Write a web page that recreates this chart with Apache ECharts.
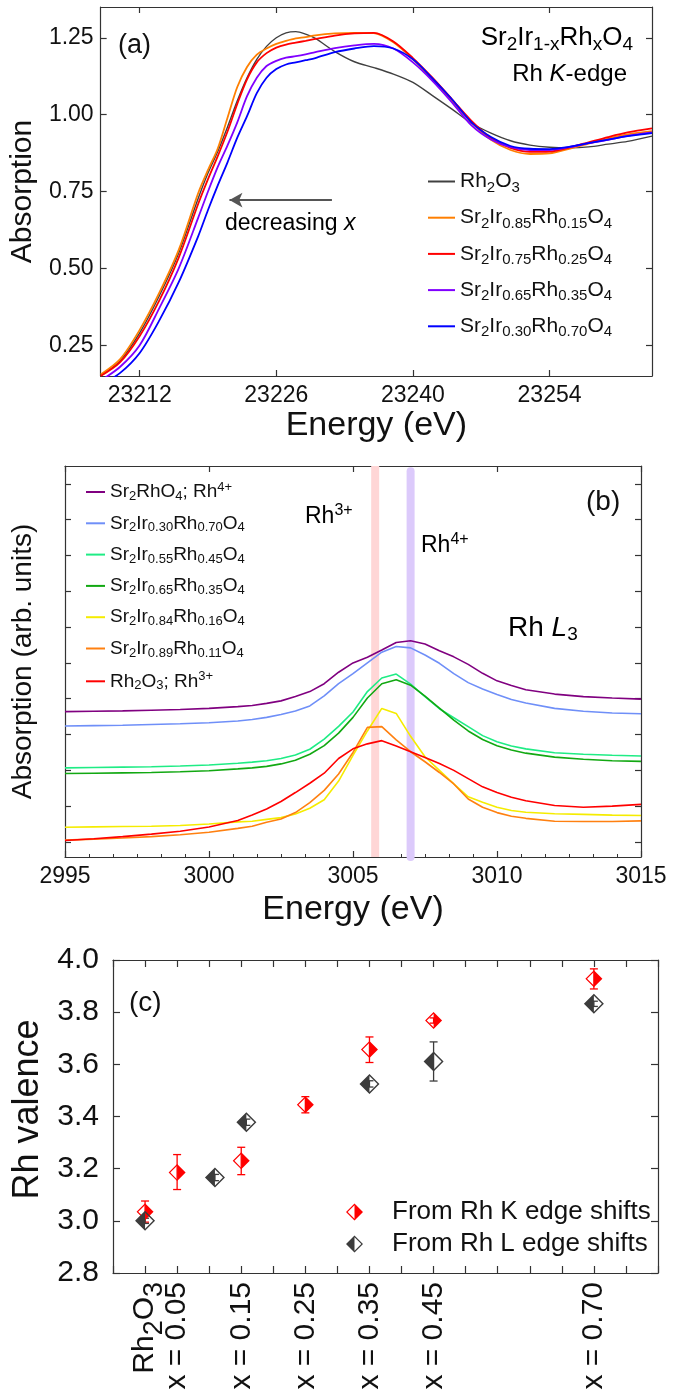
<!DOCTYPE html>
<html>
<head>
<meta charset="utf-8">
<script src="https://cdn.jsdelivr.net/npm/echarts@6/dist/echarts.min.js"></script>
<style>
  html, body { margin: 0; padding: 0; background: #fff; }
  #chart { width: 681px; height: 1393px; }
</style>
</head>
<body>
<div id="chart"></div>
<script>
const FONT = '"Liberation Sans", Arial, Helvetica, sans-serif';
const INK = '#111';
const FRAME = '#333';

// ---------- (a) Rh K-edge XANES ----------
const kEnergy = [23208, 23210, 23212, 23214, 23216, 23218, 23219, 23220, 23221, 23222, 23223, 23224, 23225, 23226, 23227, 23228, 23229, 23230,
  23232, 23234, 23236, 23238, 23240, 23242, 23244, 23246, 23248, 23250, 23252, 23254, 23256, 23258, 23260, 23262, 23264.5];
const kRh2O3 = [0.15, 0.2, 0.29, 0.41, 0.55, 0.728, 0.81, 0.88, 0.96, 1.045, 1.12, 1.18, 1.222, 1.25, 1.266, 1.27, 1.262, 1.248,
  1.205, 1.172, 1.153, 1.132, 1.105, 1.062, 1.018, 0.972, 0.94, 0.915, 0.901, 0.894, 0.892, 0.895, 0.904, 0.913, 0.93];
const kX015 = [0.155, 0.205, 0.3, 0.42, 0.56, 0.745, 0.82, 0.89, 0.99, 1.09, 1.155, 1.195, 1.215, 1.23, 1.24, 1.248, 1.252, 1.258,
  1.264, 1.266, 1.265, 1.235, 1.18, 1.115, 1.045, 0.975, 0.918, 0.885, 0.872, 0.874, 0.889, 0.906, 0.922, 0.936, 0.946];
const kX025 = [0.15, 0.195, 0.28, 0.395, 0.535, 0.71, 0.79, 0.865, 0.945, 1.035, 1.115, 1.17, 1.2, 1.218, 1.228, 1.234, 1.24, 1.246,
  1.257, 1.264, 1.266, 1.238, 1.184, 1.12, 1.05, 0.98, 0.924, 0.892, 0.879, 0.88, 0.893, 0.91, 0.927, 0.942, 0.955];
const kX035 = [0.135, 0.18, 0.25, 0.37, 0.5, 0.665, 0.75, 0.83, 0.9, 0.975, 1.06, 1.12, 1.158, 1.175, 1.185, 1.19, 1.196, 1.203,
  1.216, 1.225, 1.23, 1.215, 1.17, 1.11, 1.04, 0.965, 0.919, 0.894, 0.885, 0.885, 0.894, 0.907, 0.918, 0.931, 0.942];
const kX070 = [0.12, 0.16, 0.225, 0.33, 0.455, 0.605, 0.69, 0.77, 0.845, 0.925, 0.995, 1.07, 1.12, 1.148, 1.163, 1.17, 1.177, 1.184,
  1.203, 1.215, 1.223, 1.215, 1.18, 1.118, 1.05, 0.975, 0.927, 0.898, 0.889, 0.888, 0.895, 0.907, 0.919, 0.93, 0.94];
const kTicks = [23212, 23226, 23240, 23254];
const kAbsTicks = [0.25, 0.5, 0.75, 1.0, 1.25];
const arrowFrom = [23231.7, 0.722];
const arrowTo = [23221.2, 0.722];

// ---------- (b) Rh L3-edge ----------
const lEnergy = [2995, 2996, 2997, 2998, 2999, 3000, 3001, 3001.5, 3002, 3002.5, 3003, 3003.5, 3004, 3004.5, 3005, 3005.5,
  3006, 3006.5, 3007, 3007.5, 3008, 3008.5, 3009, 3009.5, 3010, 3010.5, 3011, 3012, 3013, 3014, 3015];
const lSr2RhO4 = [3.64, 3.65, 3.66, 3.68, 3.7, 3.73, 3.78, 3.81, 3.87, 3.94, 4.06, 4.2, 4.42, 4.74, 5.0, 5.16,
  5.36, 5.57, 5.62, 5.53, 5.34, 5.17, 4.96, 4.71, 4.5, 4.37, 4.25, 4.13, 4.06, 4.02, 3.99];
const lX070 = [3.24, 3.25, 3.26, 3.28, 3.3, 3.33, 3.38, 3.42, 3.48, 3.56, 3.66, 3.8, 4.08, 4.42, 4.7, 5.0,
  5.3, 5.46, 5.42, 5.22, 4.99, 4.7, 4.45, 4.27, 4.12, 3.98, 3.88, 3.73, 3.65, 3.6, 3.58];
const lX045 = [2.07, 2.08, 2.09, 2.1, 2.12, 2.15, 2.2, 2.23, 2.27, 2.33, 2.43, 2.59, 2.87, 3.23, 3.63, 4.2,
  4.58, 4.69, 4.41, 4.06, 3.72, 3.47, 3.22, 2.97, 2.8, 2.68, 2.6, 2.49, 2.45, 2.42, 2.4];
const lX035 = [1.91, 1.92, 1.93, 1.94, 1.96, 1.99, 2.04, 2.07, 2.11, 2.18, 2.28, 2.45, 2.69, 3.04, 3.48, 4.02,
  4.42, 4.53, 4.38, 4.07, 3.74, 3.4, 3.1, 2.86, 2.69, 2.57, 2.48, 2.37, 2.31, 2.27, 2.25];
const lX016 = [0.41, 0.42, 0.43, 0.44, 0.46, 0.5, 0.56, 0.58, 0.63, 0.68, 0.78, 0.94, 1.18, 1.7, 2.42, 3.1,
  3.73, 3.59, 2.95, 2.38, 2.0, 1.62, 1.26, 1.11, 0.97, 0.88, 0.83, 0.79, 0.77, 0.75, 0.74];
const lX011 = [0.05, 0.08, 0.11, 0.15, 0.2, 0.27, 0.38, 0.44, 0.55, 0.64, 0.82, 1.1, 1.44, 1.9, 2.5, 3.2,
  3.22, 2.85, 2.52, 2.24, 1.94, 1.62, 1.2, 0.97, 0.82, 0.72, 0.66, 0.58, 0.57, 0.57, 0.59];
const lRh2O3 = [0.04, 0.09, 0.15, 0.22, 0.3, 0.42, 0.6, 0.75, 0.92, 1.13, 1.38, 1.64, 1.92, 2.33, 2.6, 2.74,
  2.83, 2.68, 2.52, 2.36, 2.19, 2.0, 1.77, 1.54, 1.38, 1.25, 1.15, 1.02, 0.97, 1.0, 1.05];
const lYTicks = [0, 1, 2, 3, 4, 5, 6, 7, 8, 9, 10];
const bandRh3 = 3005.77;   // Rh3+ reference position
const bandRh4 = 3007.0;    // Rh4+ reference position

// ---------- (c) Rh valence ----------
const kDopingX = [0, 0.05, 0.15, 0.25, 0.35, 0.45, 0.70];
const kValence = [3.035, 3.185, 3.23, 3.445, 3.657, 3.768, 3.928];
const kValLow = [2.995, 3.12, 3.177, 3.414, 3.607, 3.758, 3.889];
const kValHigh = [3.076, 3.254, 3.282, 3.476, 3.705, 3.778, 3.966];
const lDopingX = [0, 0.109, 0.158, 0.35, 0.45, 0.70];
const lValence = [3.0, 3.166, 3.378, 3.525, 3.611, 3.832];
const lValLow = [2.99, 3.154, 3.366, 3.513, 3.536, 3.822];
const lValHigh = [3.01, 3.178, 3.39, 3.537, 3.686, 3.842];
const valenceLabelX = [0, 0.05, 0.15, 0.25, 0.35, 0.45, 0.70];

// chemistry-style markup: _{sub} ^{sup} ~{italic}
function rt(str) {
  return str.replace(/([_^~])\{([^}]*)\}|([^_^~]+)/g, (m, k, inner, plain) => {
    if (plain) return '{n|' + plain + '}';
    return '{' + (k === '_' ? 's' : k === '^' ? 'u' : 'i') + '|' + inner + '}';
  });
}
function richSet(size, sub, shift, color) {
  const c = color || INK;
  return {
    n: { fontSize: size, fontFamily: FONT, color: c },
    i: { fontSize: size, fontFamily: FONT, fontStyle: 'italic', color: c },
    s: { fontSize: sub, fontFamily: FONT, color: c, padding: [shift, 0, 0, 0] },
    u: { fontSize: sub, fontFamily: FONT, color: c, padding: [0, 0, shift, 0] }
  };
}

const pairs = (xs, ys) => xs.map((x, i) => [x, ys[i]]);

const seriesA = [
  { name: 'a_Rh2O3', label: 'Rh_{2}O_{3}', color: '#404040', data: kRh2O3, width: 1.4 },
  { name: 'a_015', label: 'Sr_{2}Ir_{0.85}Rh_{0.15}O_{4}', color: '#ff7f00', data: kX015, width: 1.8 },
  { name: 'a_025', label: 'Sr_{2}Ir_{0.75}Rh_{0.25}O_{4}', color: '#ff0000', data: kX025, width: 1.8 },
  { name: 'a_035', label: 'Sr_{2}Ir_{0.65}Rh_{0.35}O_{4}', color: '#8000ff', data: kX035, width: 1.8 },
  { name: 'a_070', label: 'Sr_{2}Ir_{0.30}Rh_{0.70}O_{4}', color: '#0000ff', data: kX070, width: 1.8 }
];
const seriesB = [
  { name: 'b_Sr2RhO4', label: 'Sr_{2}RhO_{4}; Rh^{4+}', color: '#800080', data: lSr2RhO4 },
  { name: 'b_070', label: 'Sr_{2}Ir_{0.30}Rh_{0.70}O_{4}', color: '#6f8ff8', data: lX070 },
  { name: 'b_045', label: 'Sr_{2}Ir_{0.55}Rh_{0.45}O_{4}', color: '#1fec85', data: lX045 },
  { name: 'b_035', label: 'Sr_{2}Ir_{0.65}Rh_{0.35}O_{4}', color: '#12a812', data: lX035 },
  { name: 'b_016', label: 'Sr_{2}Ir_{0.84}Rh_{0.16}O_{4}', color: '#f5ec00', data: lX016 },
  { name: 'b_011', label: 'Sr_{2}Ir_{0.89}Rh_{0.11}O_{4}', color: '#ff8010', data: lX011 },
  { name: 'b_Rh2O3', label: 'Rh_{2}O_{3}; Rh^{3+}', color: '#ff0000', data: lRh2O3 }
];
const LABELS = {};
seriesA.concat(seriesB).forEach(s => { LABELS[s.name] = s.label; });

// half-filled diamonds: ring + filled half in one path
const RED_DIAMOND = 'path://M10,0L20,10L10,20L0,10Z M10,2L2,10L10,18L18,10Z M10,2L18,10L10,18Z';
const GRAY_DIAMOND = 'path://M10,0L20,10L10,20L0,10Z M10,2L2,10L10,18L18,10Z M10,2L10,18L2,10Z';

function errorBar(color) {
  return function (params, api) {
    const x = api.value(0);
    const top = api.coord([x, api.value(2)]);
    const bot = api.coord([x, api.value(1)]);
    const style = { stroke: color, lineWidth: 1.3 };
    return {
      type: 'group',
      children: [
        { type: 'line', shape: { x1: top[0], y1: top[1], x2: bot[0], y2: bot[1] }, style },
        { type: 'line', shape: { x1: top[0] - 4, y1: top[1], x2: top[0] + 4, y2: top[1] }, style },
        { type: 'line', shape: { x1: bot[0] - 4, y1: bot[1], x2: bot[0] + 4, y2: bot[1] }, style }
      ]
    };
  };
}

function frame(extra) {
  const tick = Object.assign({ show: true, inside: true, length: 6, lineStyle: { color: FRAME, width: 1.2 } }, extra.axisTick || {});
  return Object.assign({
    type: 'value',
    axisLine: { show: true, onZero: false, lineStyle: { color: FRAME, width: 1.2 } },
    splitLine: { show: false },
    axisLabel: { show: false }
  }, extra, { axisTick: tick });
}

// label only the doping levels that were measured
function valenceLabel(v) {
  const k = Math.round(v * 100);
  if (!valenceLabelX.some(x => Math.round(x * 100) === k)) return '';
  return k === 0 ? rt('Rh_{2}O_{3}') : rt('x = ' + (k / 100).toFixed(2));
}

const chart = echarts.init(document.getElementById('chart'));

const option = {
  animation: false,
  backgroundColor: '#fff',
  textStyle: { fontFamily: FONT },
  grid: [
    { left: 97, right: 29, top: 7, height: 369 },
    { left: 65, right: 40, top: 466, height: 391 },
    { left: 113, right: 23, top: 960, height: 313 }
  ],
  xAxis: [
    frame({
      gridIndex: 0, min: 23208, max: 23264.5, position: 'bottom',
      axisTick: { customValues: kTicks },
      axisLabel: { show: true, customValues: kTicks, fontSize: 23, color: INK, margin: 8, fontFamily: FONT,
        formatter: v => String(v) },
      name: 'Energy (eV)', nameLocation: 'middle', nameGap: 33,
      nameTextStyle: { fontSize: 34, color: INK, fontFamily: FONT }
    }),
    frame({ gridIndex: 0, min: 23208, max: 23264.5, position: 'top', axisTick: { customValues: kTicks } }),
    frame({
      gridIndex: 1, min: 2995, max: 3015, interval: 5, position: 'bottom',
      minorTick: { show: true, splitNumber: 6, length: 3, lineStyle: { color: FRAME, width: 1 } },
      axisLabel: { show: true, fontSize: 23, color: INK, margin: 8, fontFamily: FONT, formatter: v => String(v) },
      name: 'Energy (eV)', nameLocation: 'middle', nameGap: 36,
      nameTextStyle: { fontSize: 34, color: INK, fontFamily: FONT }
    }),
    frame({ gridIndex: 1, min: 2995, max: 3015, interval: 5, position: 'top' }),
    frame({
      gridIndex: 2, min: -0.05, max: 0.8, interval: 0.05, position: 'bottom',
      axisTick: { length: 7 },
      axisLabel: {
        show: true, interval: 0, rotate: 90, margin: 9, formatter: valenceLabel,
        rich: richSet(30, 27, 18)
      }
    }),
    frame({ gridIndex: 2, min: -0.05, max: 0.8, interval: 0.05, position: 'top', axisTick: { length: 7 } })
  ],
  yAxis: [
    frame({
      gridIndex: 0, min: 0.15, max: 1.35, position: 'left',
      axisTick: { customValues: kAbsTicks },
      axisLabel: { show: true, customValues: kAbsTicks, fontSize: 23, color: INK, margin: 7, fontFamily: FONT,
        formatter: v => v.toFixed(2) },
      name: 'Absorption', nameLocation: 'middle', nameGap: 58,
      nameTextStyle: { fontSize: 30, color: INK, fontFamily: FONT }
    }),
    frame({ gridIndex: 0, min: 0.15, max: 1.35, position: 'right', axisTick: { customValues: kAbsTicks } }),
    frame({
      gridIndex: 1, min: -0.42, max: 10.5, position: 'left',
      axisTick: { customValues: lYTicks },
      name: 'Absorption (arb. units)', nameLocation: 'middle', nameGap: 28,
      nameTextStyle: { fontSize: 28, color: INK, fontFamily: FONT }
    }),
    frame({ gridIndex: 1, min: -0.42, max: 10.5, position: 'right', axisTick: { customValues: lYTicks } }),
    frame({
      gridIndex: 2, min: 2.8, max: 4.0, interval: 0.2, position: 'left',
      axisTick: { length: 7 },
      axisLabel: { show: true, fontSize: 30, color: INK, margin: 14, fontFamily: FONT, formatter: v => v.toFixed(1) },
      name: 'Rh valence', nameLocation: 'middle', nameGap: 64,
      nameTextStyle: { fontSize: 36, color: INK, fontFamily: FONT, padding: [0, 0, 0, 14] }
    }),
    frame({ gridIndex: 2, min: 2.8, max: 4.0, interval: 0.2, position: 'right', axisTick: { length: 7 } })
  ],
  legend: [
    {
      orient: 'vertical', left: 428, top: 171, padding: 0, itemGap: 12.2, itemWidth: 27, itemHeight: 2, icon: 'rect',
      data: seriesA.map(s => s.name),
      formatter: name => rt(LABELS[name]),
      textStyle: { rich: richSet(21, 15, 12) }
    },
    {
      orient: 'vertical', left: 86, top: 481, padding: 0, itemGap: 10.8, itemWidth: 19, itemHeight: 2, icon: 'rect',
      data: seriesB.map(s => s.name),
      formatter: name => rt(LABELS[name]),
      textStyle: { rich: richSet(19, 13, 9) }
    },
    {
      orient: 'vertical', left: 346, top: 1199, padding: 0, itemGap: 6, itemWidth: 17, itemHeight: 17,
      data: ['From Rh K edge shifts', 'From Rh L edge shifts'],
      textStyle: { fontSize: 26, color: INK, fontFamily: FONT, padding: [0, 0, 0, 24] }
    }
  ],
  graphic: [
    { type: 'text', left: 118, top: 32, style: { text: '(a)', fontSize: 27, fontFamily: FONT, fill: INK } },
    { type: 'text', right: 48, top: 25, style: { text: rt('Sr_{2}Ir_{1-x}Rh_{x}O_{4}'), rich: richSet(26, 19, 14) } },
    { type: 'text', right: 54, top: 62, style: { text: rt('Rh ~{K}-edge'), rich: richSet(24, 16, 10) } },
    { type: 'text', left: 225, top: 212, style: { text: rt('decreasing ~{x}'), rich: richSet(23, 16, 8, '#555') } },
    { type: 'text', left: 586, top: 488, style: { text: '(b)', fontSize: 28, fontFamily: FONT, fill: INK } },
    { type: 'text', left: 305, top: 503, style: { text: rt('Rh^{3+}'), rich: richSet(23, 16, 12, '#ff0000') } },
    { type: 'text', left: 421, top: 532, style: { text: rt('Rh^{4+}'), rich: richSet(23, 16, 12, '#800080') } },
    { type: 'text', left: 508, top: 614, style: { text: rt('Rh ~{L}_{3}'), rich: richSet(28, 19, 14) } },
    { type: 'text', left: 129, top: 989, style: { text: '(c)', fontSize: 28, fontFamily: FONT, fill: INK } }
  ],
  series: []
};

// (a) curves
seriesA.forEach((s, idx) => {
  const item = {
    name: s.name, type: 'line', xAxisIndex: 0, yAxisIndex: 0,
    data: pairs(kEnergy, s.data), smooth: 0.3, showSymbol: false, symbol: 'none',
    itemStyle: { color: s.color }, lineStyle: { color: s.color, width: s.width }
  };
  if (idx === 0) {
    item.markLine = {
      silent: true, symbol: ['none', 'arrow'], symbolSize: [11, 13],
      lineStyle: { color: '#555', width: 2, type: 'solid' },
      label: { show: false },
      data: [[{ coord: arrowFrom }, { coord: arrowTo }]]
    };
  }
  option.series.push(item);
});

// (b) reference bands
[[bandRh3, '#ffd6d6', 'butt', 10.5], [bandRh4, '#dccafb', 'round', 10.35]].forEach(([e, c, cap, top]) => {
  option.series.push({
    type: 'line', xAxisIndex: 2, yAxisIndex: 2, z: 1, silent: true, symbol: 'none',
    data: [[e, -0.42], [e, top]],
    lineStyle: { color: c, width: 8, cap }
  });
});
// (b) curves
seriesB.forEach(s => {
  option.series.push({
    name: s.name, type: 'line', xAxisIndex: 2, yAxisIndex: 2, z: 3,
    data: pairs(lEnergy, s.data), showSymbol: false, symbol: 'none',
    itemStyle: { color: s.color }, lineStyle: { color: s.color, width: 1.6 }
  });
});

// (c) valence
option.series.push(
  {
    type: 'custom', xAxisIndex: 4, yAxisIndex: 4, z: 2, silent: true,
    renderItem: errorBar('#ff0000'), encode: { x: 0, y: [1, 2] },
    data: kDopingX.map((x, i) => [x, kValLow[i], kValHigh[i]])
  },
  {
    type: 'custom', xAxisIndex: 4, yAxisIndex: 4, z: 2, silent: true,
    renderItem: errorBar('#3c3c3c'), encode: { x: 0, y: [1, 2] },
    data: lDopingX.map((x, i) => [x, lValLow[i], lValHigh[i]])
  },
  {
    name: 'From Rh K edge shifts', type: 'scatter', xAxisIndex: 4, yAxisIndex: 4, z: 3,
    symbol: RED_DIAMOND, symbolSize: 17, itemStyle: { color: '#ff0000', opacity: 1 },
    data: pairs(kDopingX, kValence)
  },
  {
    name: 'From Rh L edge shifts', type: 'scatter', xAxisIndex: 4, yAxisIndex: 4, z: 3,
    symbol: GRAY_DIAMOND, symbolSize: 20, itemStyle: { color: '#3c3c3c', opacity: 1 },
    data: pairs(lDopingX, lValence)
  }
);

chart.setOption(option);
</script>
</body>
</html>
